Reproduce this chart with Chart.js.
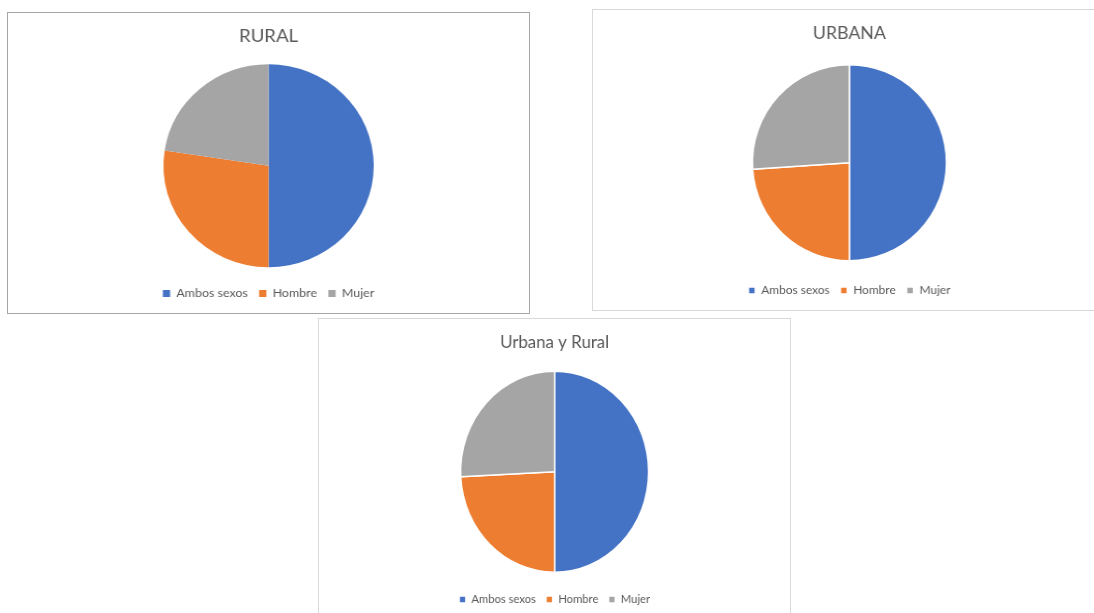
<!DOCTYPE html>
<html lang="es">
<head>
<meta charset="utf-8">
<title>Población por sexo</title>
<script src="https://cdn.jsdelivr.net/npm/chart.js@4.4.1/dist/chart.umd.min.js"></script>
<style>
    html, body {
        margin: 0;
        padding: 0;
        background: #fff;
        width: 1094px;
        height: 613px;
        overflow: hidden;
        position: relative;
    }
    .panel {
        position: absolute;
        background: #fff;
        overflow: hidden;
        box-sizing: border-box;
    }
    /* the screenshot is slightly stretched, so each chart is scaled a little */
    .panel .inner {
        position: absolute;
        left: 0;
        top: 0;
        height: 300px;
        transform-origin: 0 0;
    }
    #panelRural { left: 7px; top: 12px; width: 523px; height: 302px; border: 1px solid #a6a6a6; }
    #panelRural .inner { width: 503px; transform: scale(1.036, 1); }
    #panelUrbana { left: 592px; top: 9px; width: 515px; height: 302px; border: 1px solid #d9d9d9; }
    #panelUrbana .inner { width: 518px; transform: scale(0.99, 1); }
    #panelTotal { left: 318px; top: 318px; width: 473px; height: 320px; border: 1px solid #d9d9d9; }
    #panelTotal .inner { width: 504px; transform: scale(0.935, 1); }
</style>
</head>
<body>
<div class="panel" id="panelRural"><div class="inner"><canvas id="ruralChart"></canvas></div></div>
<div class="panel" id="panelUrbana"><div class="inner"><canvas id="urbanaChart"></canvas></div></div>
<div class="panel" id="panelTotal"><div class="inner"><canvas id="totalChart"></canvas></div></div>

<script>
    // Data (percent of population, Ambos sexos = Hombre + Mujer)
    const categories = ['Ambos sexos', 'Hombre', 'Mujer'];
    const ruralValues = [100, 54.8, 45.2];
    const urbanaValues = [100, 47.9, 52.1];
    const totalValues = [100, 48.4, 51.6];

    const sliceColors = ['#4472C4', '#ED7D31', '#A5A5A5'];
    const textColor = '#595959';

    document.addEventListener('DOMContentLoaded', function() {
        createPie('ruralChart', 'RURAL', ruralValues, 101.5, 0);
        createPie('urbanaChart', 'URBANA', urbanaValues, 98, 1.5);
        createPie('totalChart', 'Urbana y Rural', totalValues, 100.5, 1.5);
    });

    function createPie(canvasId, titleText, values, radius, sliceBorder) {
        const ctx = document.getElementById(canvasId).getContext('2d');
        new Chart(ctx, {
            type: 'pie',
            data: {
                labels: categories,
                datasets: [{
                    data: values,
                    backgroundColor: sliceColors,
                    borderColor: '#ffffff',
                    borderWidth: sliceBorder,
                    radius: radius
                }]
            },
            options: {
                responsive: true,
                maintainAspectRatio: false,
                animation: false,
                layout: {
                    padding: { top: 0, bottom: 3.5, left: 0, right: 0 }
                },
                plugins: {
                    title: {
                        display: true,
                        text: titleText,
                        color: textColor,
                        font: { family: 'Lato', size: 18, weight: 'normal' },
                        padding: { top: 12.2, bottom: 8.1 }
                    },
                    legend: {
                        position: 'bottom',
                        labels: {
                            color: textColor,
                            font: { family: 'Lato', size: 12 },
                            boxWidth: 7,
                            boxHeight: 7,
                            padding: 11
                        }
                    },
                    tooltip: { enabled: false }
                }
            }
        });
    }
</script>
</body>
</html>
